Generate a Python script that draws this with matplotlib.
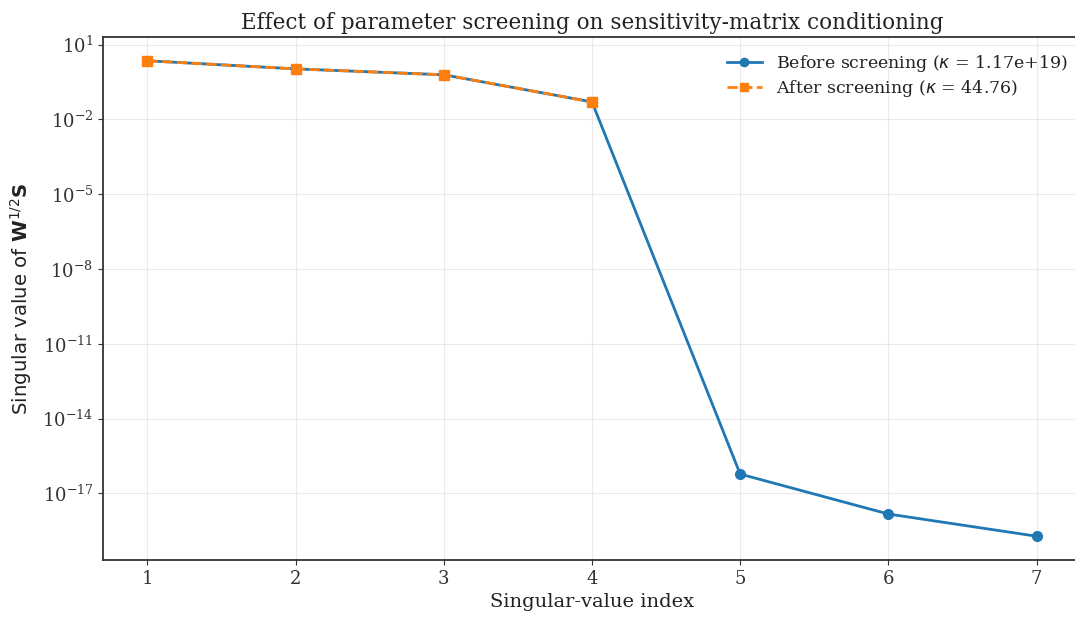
import matplotlib
matplotlib.use("Agg")
import matplotlib.pyplot as plt
import numpy as np

# Data
index = [1, 2, 3, 4, 5, 6, 7]
sv_before = [2.26, 1.07, 0.62, 0.0505, 6.0e-17, 1.5e-18, 1.93e-19]
index_after = [1, 2, 3, 4]
sv_after = [2.26, 1.07, 0.62, 0.0505]
label_before = r"Before screening ($\kappa$ = 1.17e+19)"
label_after = r"After screening ($\kappa$ = 44.76)"
title = "Effect of parameter screening on sensitivity-matrix conditioning"
xlabel = "Singular-value index"
ylabel = r"Singular value of $\mathbf{W}^{1/2}\mathbf{S}$"

plt.rcParams['font.family'] = ['DejaVu Serif']
plt.rcParams['axes.edgecolor'] = '#333333'
plt.rcParams['xtick.color'] = '#333333'
plt.rcParams['ytick.color'] = '#333333'
plt.rcParams['text.color'] = '#222222'
plt.rcParams['axes.labelcolor'] = '#222222'

fig = plt.figure(figsize=(10.75, 6.22), dpi=100)
ax = fig.add_axes([103/1075, 62/622, (1081-103)/1075, (560-37)/622])

ax.plot(index, sv_before, '-o', color='#1f77b4', lw=2, ms=7, label=label_before)
ax.plot(index_after, sv_after, '--s', color='#ff7f0e', lw=2, ms=7, label=label_after)
ax.set_yscale('log')
ax.set_xticks(index)
ax.set_yticks([1e1, 1e-2, 1e-5, 1e-8, 1e-11, 1e-14, 1e-17])
ax.yaxis.set_minor_locator(matplotlib.ticker.NullLocator())
ax.grid(True, color='#dddddd', alpha=0.6, lw=0.8)
for s in ax.spines.values():
    s.set_linewidth(1.3)
ax.spines['right'].set_visible(False)
ax.tick_params(labelsize=13)
ax.set_xlabel(xlabel, fontsize=14)
ax.set_ylabel(ylabel, fontsize=14.2, family='DejaVu Sans', labelpad=6)
ax.set_title(title, fontsize=15.5)
ax.legend(loc='upper right', fontsize=12.5, frameon=False, bbox_to_anchor=(1.002, 1.0),
          markerscale=0.85, labelspacing=0.27)

fig.savefig('out.png', dpi=100)
